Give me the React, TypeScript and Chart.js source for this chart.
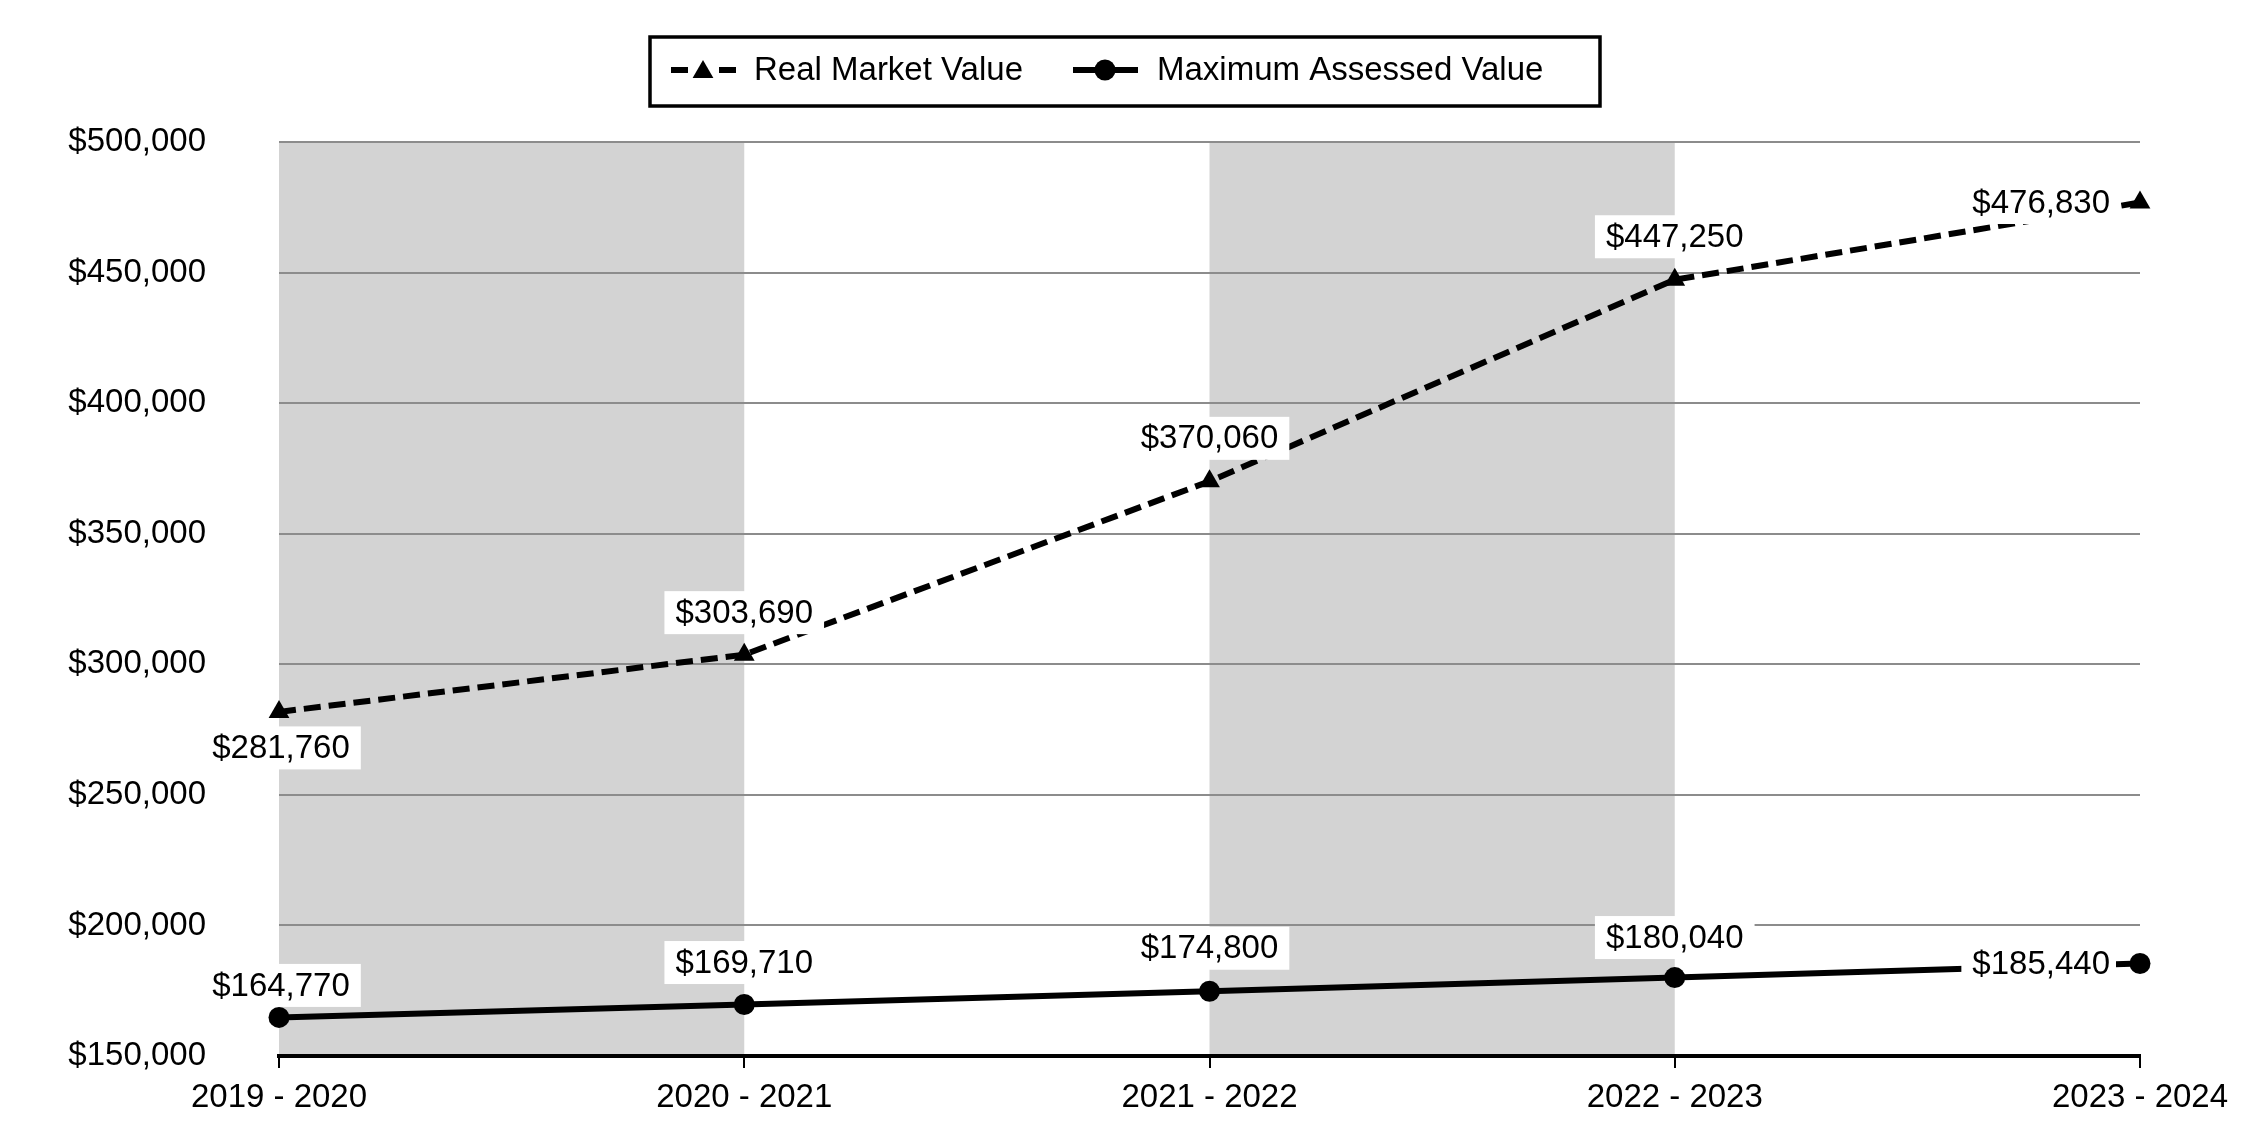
import React, { useEffect, useRef } from 'react';
import { Chart, registerables } from 'chart.js';

Chart.register(...registerables);

// ---- data ----
const categories = ['2019 - 2020', '2020 - 2021', '2021 - 2022', '2022 - 2023', '2023 - 2024'];
const realMarketValue = [281760, 303690, 370060, 447250, 476830];
const maxAssessedValue = [164770, 169710, 174800, 180040, 185440];
const seriesNames = ['Real Market Value', 'Maximum Assessed Value'];
const yMin = 150000;
const yMax = 500000;
const yStep = 50000;

// ---- style config ----
const shadedBands = [0, 2]; // category index where a grey band starts
const rmvLabelPlacement = [
  { pos: 'below', dist: 36 },
  { pos: 'above', dist: 42 },
  { pos: 'above', dist: 43 },
  { pos: 'above', dist: 43 },
  { pos: 'left', dist: 30 },
];
const mavLabelPlacement = [
  { pos: 'above', dist: 32 },
  { pos: 'above', dist: 42 },
  { pos: 'above', dist: 43 },
  { pos: 'above', dist: 40 },
  { pos: 'left', dist: 30 },
];

const FONT = "'Liberation Sans', Arial, sans-serif";
const FONT_SIZE = 33;

const fmt = (v: number) => '$' + v.toLocaleString('en-US');

const bandsPlugin = {
  id: 'bands',
  beforeDraw(chart: any) {
    const { ctx, chartArea, scales } = chart;
    const x = scales.x;
    ctx.save();
    ctx.fillStyle = '#d3d3d3';
    shadedBands.forEach((i) => {
      const x0 = x.getPixelForValue(i);
      const x1 = x.getPixelForValue(i + 1);
      ctx.fillRect(x0, chartArea.top, x1 - x0, chartArea.bottom - chartArea.top);
    });
    ctx.restore();
  },
};

const labelsPlugin = {
  id: 'valueLabels',
  afterDatasetsDraw(chart: any) {
    const { ctx } = chart;
    const placements = [rmvLabelPlacement, mavLabelPlacement];
    ctx.save();
    ctx.font = `${FONT_SIZE}px ${FONT}`;
    ctx.textBaseline = 'middle';
    chart.data.datasets.forEach((ds: any, di: number) => {
      const meta = chart.getDatasetMeta(di);
      meta.data.forEach((pt: any, i: number) => {
        const text = fmt(ds.data[i]);
        const w = ctx.measureText(text).width;
        const pl = placements[di][i];
        const padX = 11;
        const h = 43;
        let cx = pt.x + (i === 0 ? 2 : 0);
        let cy = pt.y;
        if (pl.pos === 'above') cy = pt.y - pl.dist;
        else if (pl.pos === 'below') cy = pt.y + pl.dist;
        else if (pl.pos === 'left') cx = pt.x - pl.dist - w / 2;
        ctx.fillStyle = '#ffffff';
        const bx0 = cx - w / 2 - padX;
        const bx1 = pl.pos === 'left' ? cx + w / 2 + 6 : cx + w / 2 + padX;
        ctx.fillRect(bx0, cy - h / 2, bx1 - bx0, h);
        ctx.fillStyle = '#000000';
        ctx.textAlign = 'center';
        ctx.fillText(text, cx, cy + 1);
      });
    });
    ctx.restore();
  },
};

function drawTriangle(ctx: CanvasRenderingContext2D, x: number, y: number, r: number) {
  ctx.beginPath();
  ctx.moveTo(x, y - r);
  ctx.lineTo(x + r * Math.sin(Math.PI / 3), y + r / 2);
  ctx.lineTo(x - r * Math.sin(Math.PI / 3), y + r / 2);
  ctx.closePath();
  ctx.fill();
}

const legendPlugin = {
  id: 'boxLegend',
  afterDraw(chart: any) {
    const { ctx } = chart;
    ctx.save();
    ctx.strokeStyle = '#000';
    ctx.lineWidth = 3.5;
    ctx.strokeRect(650, 37, 950, 69);
    const cy = 70;
    // item 1: dashed line with triangle
    ctx.lineWidth = 6;
    ctx.beginPath();
    ctx.moveTo(671, cy);
    ctx.lineTo(688, cy);
    ctx.moveTo(719, cy);
    ctx.lineTo(736, cy);
    ctx.stroke();
    ctx.fillStyle = '#000';
    drawTriangle(ctx, 703, cy + 2, 12);
    // item 2: solid line with circle
    ctx.beginPath();
    ctx.moveTo(1073, cy);
    ctx.lineTo(1138, cy);
    ctx.stroke();
    ctx.beginPath();
    ctx.arc(1105, cy, 10.5, 0, Math.PI * 2);
    ctx.fill();
    // text
    ctx.font = `${FONT_SIZE}px ${FONT}`;
    ctx.textBaseline = 'middle';
    ctx.textAlign = 'left';
    ctx.fillText(seriesNames[0], 754, cy + 1);
    ctx.fillText(seriesNames[1], 1157, cy + 1);
    ctx.restore();
  },
};

export default function App() {
  const ref = useRef<HTMLCanvasElement | null>(null);

  useEffect(() => {
    document.body.style.margin = '0';
    const canvas = ref.current;
    if (!canvas) return;
    Chart.defaults.font.family = FONT;
    Chart.defaults.font.size = FONT_SIZE;
    Chart.defaults.color = '#000';
    const chart = new Chart(canvas, {
      type: 'line',
      data: {
        labels: categories,
        datasets: [
          {
            label: seriesNames[0],
            data: realMarketValue,
            borderColor: '#000',
            backgroundColor: '#000',
            borderWidth: 6,
            borderDash: [17, 8],
            pointStyle: 'triangle',
            pointRadius: 12,
            pointBorderWidth: 0,
            pointBackgroundColor: '#000',
            tension: 0,
            clip: false as any,
          },
          {
            label: seriesNames[1],
            data: maxAssessedValue,
            borderColor: '#000',
            backgroundColor: '#000',
            borderWidth: 6,
            pointStyle: 'circle',
            pointRadius: 10.5,
            pointBorderWidth: 0,
            pointBackgroundColor: '#000',
            tension: 0,
            clip: false as any,
          },
        ],
      },
      options: {
        responsive: false,
        animation: false,
        devicePixelRatio: 1,
        layout: { padding: { top: 142, right: 110, left: 0, bottom: 0 } },
        plugins: {
          legend: { display: false },
          tooltip: { enabled: false },
        },
        scales: {
          x: {
            type: 'category',
            offset: false,
            afterFit: (s: any) => {
              s.height = 84;
            },
            grid: {
              display: true,
              drawOnChartArea: false,
              drawTicks: true,
              tickLength: 12,
              color: '#000',
              lineWidth: 2,
            },
            border: { display: true, color: '#000', width: 4 },
            ticks: {
              padding: 10,
              maxRotation: 0,
              autoSkip: false,
              font: { size: FONT_SIZE, family: FONT },
              color: '#000',
            },
          },
          y: {
            min: yMin,
            max: yMax,
            afterFit: (s: any) => {
              s.width = 279;
            },
            grid: {
              color: '#8c8c8c',
              lineWidth: 2,
              drawTicks: true,
              tickLength: 73,
              tickColor: 'rgba(0,0,0,0)',
            },
            border: { display: false },
            ticks: {
              stepSize: yStep,
              padding: 0,
              font: { size: FONT_SIZE, family: FONT },
              color: '#000',
              callback: (v: any) => fmt(Number(v)),
            },
          },
        },
      },
      plugins: [bandsPlugin, labelsPlugin, legendPlugin],
    });
    return () => chart.destroy();
  }, []);

  return (
    <div style={{ position: 'fixed', left: 0, top: 0, width: 2250, height: 1140, background: '#fff' }}>
      <canvas ref={ref} width={2250} height={1140} style={{ display: 'block' }} />
    </div>
  );
}
